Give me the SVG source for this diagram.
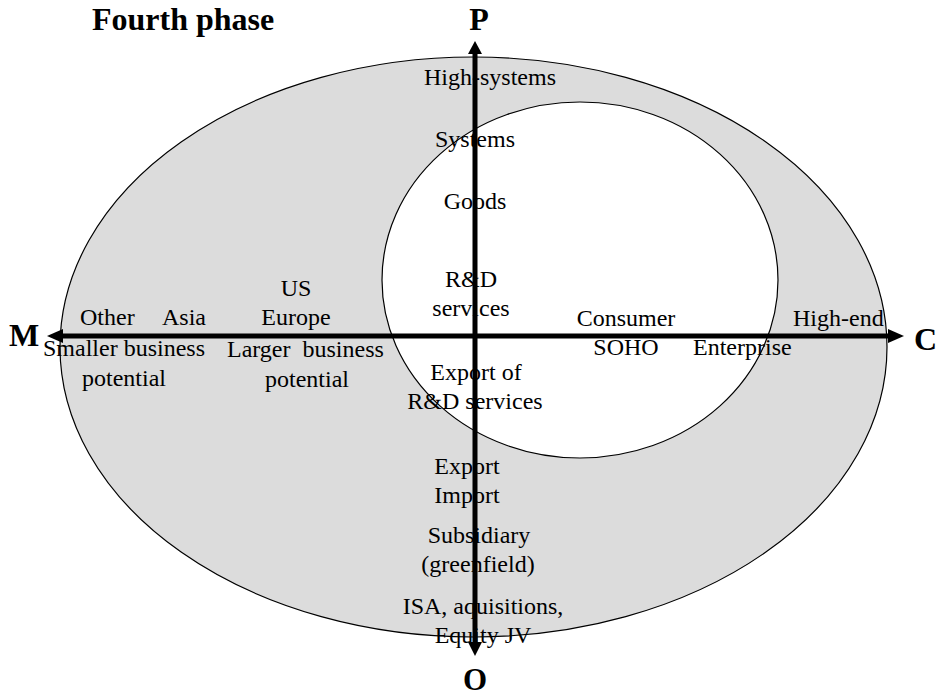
<svg xmlns="http://www.w3.org/2000/svg" width="942" height="696" viewBox="0 0 942 696">
  <style>
    .t { font-family: "Liberation Serif", "Times New Roman", serif; font-size: 24px; fill: #000; }
    .c { text-anchor: middle; }
    .b { font-family: "Liberation Serif", "Times New Roman", serif; font-size: 32px; font-weight: bold; fill: #000; }
    .ring { stroke: #000; stroke-width: 1.2; }
    .axis { stroke: #000; stroke-width: 5; fill: none; }
    .head { fill: #000; }
  </style>

  <!-- market field: outer region and inner core -->
  <g id="outer-field">
    <ellipse class="ring" cx="473.5" cy="347" rx="413.5" ry="290" fill="#dcdcdc"/>
  </g>
  <g id="inner-core">
    <ellipse class="ring" cx="580" cy="280" rx="198" ry="178" fill="#ffffff"/>
  </g>

  <!-- title -->
  <g id="title">
    <text class="b" x="92" y="30">Fourth phase</text>
  </g>

  <!-- product axis entries -->
  <g id="product-levels">
    <text class="t c" x="490" y="85">High-systems</text>
    <text class="t c" x="475" y="147">Systems</text>
    <text class="t c" x="475" y="209">Goods</text>
    <text class="t c" x="471" y="287">R&amp;D</text>
    <text class="t c" x="471" y="316">services</text>
  </g>

  <!-- market axis entries -->
  <g id="market-levels">
    <text class="t" x="80" y="325">Other</text>
    <text class="t" x="162" y="325">Asia</text>
    <text class="t" x="43" y="356">Smaller business</text>
    <text class="t c" x="124" y="386">potential</text>
    <text class="t c" x="296" y="296">US</text>
    <text class="t c" x="296" y="325">Europe</text>
    <text class="t" x="227" y="357" xml:space="preserve">Larger  business</text>
    <text class="t c" x="307" y="387">potential</text>
  </g>

  <!-- customer axis entries -->
  <g id="customer-levels">
    <text class="t c" x="626" y="326">Consumer</text>
    <text class="t c" x="626" y="355">SOHO</text>
    <text class="t" x="693" y="355">Enterprise</text>
    <text class="t" x="793" y="326">High-end</text>
  </g>

  <!-- operation mode entries -->
  <g id="operation-levels">
    <text class="t c" x="476" y="380">Export of</text>
    <text class="t c" x="475" y="409">R&amp;D services</text>
    <text class="t c" x="467" y="474">Export</text>
    <text class="t c" x="467" y="503">Import</text>
    <text class="t c" x="479" y="543">Subsidiary</text>
    <text class="t c" x="478" y="572">(greenfield)</text>
    <text class="t c" x="483" y="614">ISA, aquisitions,</text>
    <text class="t c" x="483" y="643">Equity JV</text>
  </g>

  <!-- axes -->
  <g id="connectors">
    <line class="axis" x1="62" y1="336" x2="889" y2="336"/>
    <line class="axis" x1="475" y1="53" x2="475" y2="643"/>
    <polygon class="head" points="47,336 63,329 63,343"/>
    <polygon class="head" points="904,336 888,329 888,343"/>
    <polygon class="head" points="475,41 468,54 482,54"/>
    <polygon class="head" points="475,656 468,642 482,642"/>
  </g>

  <!-- axis letters -->
  <g id="axis-labels">
    <text class="b c" x="479" y="30">P</text>
    <text class="b" x="9" y="346">M</text>
    <text class="b" x="914" y="350">C</text>
    <text class="b c" x="475" y="690" style="font-size:31px">O</text>
  </g>
</svg>
